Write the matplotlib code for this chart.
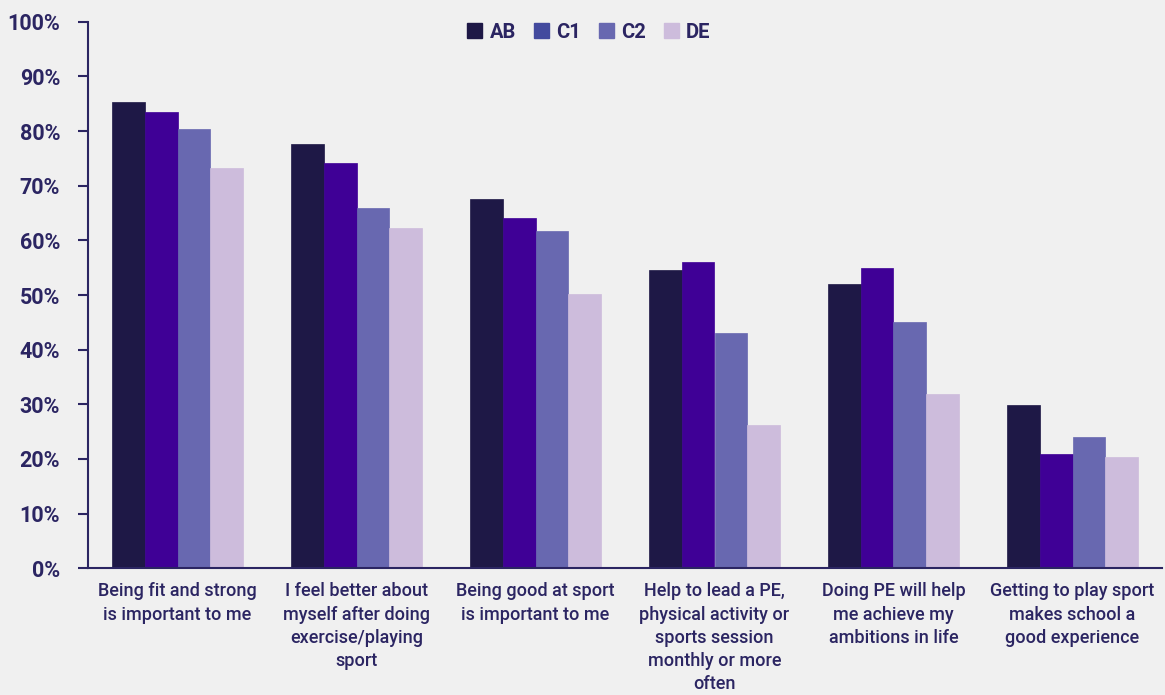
import matplotlib
matplotlib.use("Agg")
import matplotlib.pyplot as plt
import numpy as np
from matplotlib.patches import Patch

categories = [
    "Being fit and strong\nis important to me",
    "I feel better about\nmyself after doing\nexercise/playing\nsport",
    "Being good at sport\nis important to me",
    "Help to lead a PE,\nphysical activity or\nsports session\nmonthly or more\noften",
    "Doing PE will help\nme achieve my\nambitions in life",
    "Getting to play sport\nmakes school a\ngood experience",
]
series_names = ["AB", "C1", "C2", "DE"]
AB = [85.4, 77.6, 67.5, 54.6, 52.1, 29.9]
C1 = [83.4, 74.1, 64.0, 56.1, 54.9, 20.9]
C2 = [80.3, 65.9, 61.7, 43.0, 45.0, 24.1]
DE = [73.3, 62.2, 50.2, 26.2, 31.8, 20.3]
yticks = [0, 10, 20, 30, 40, 50, 60, 70, 80, 90, 100]

bar_colors = ["#1e1846", "#3f0096", "#6868b0", "#cdbcdc"]
legend_colors = ["#1e1846", "#434a9e", "#6868b0", "#cdbcdc"]
txt = "#2b2562"
bg = "#f0f0f0"

plt.rcParams['font.family'] = ['Roboto', 'DejaVu Sans']

fig = plt.figure(figsize=(11.65, 6.95), dpi=100, facecolor=bg)
ax = fig.add_axes([88/1165, 1-568.3/695, 1074/1165, (568.3-21.7)/695])
ax.set_facecolor(bg)

x = np.arange(len(categories))
w = 0.1816
data = [AB, C1, C2, DE]
for i, (vals, col) in enumerate(zip(data, bar_colors)):
    ax.bar(x + (i - 1.5) * w, vals, width=w, color=col, edgecolor=col, linewidth=0.5)

ax.set_xlim(-0.5, len(categories) - 0.5)
ax.set_ylim(0, 100)
ax.set_yticks(yticks)
ax.set_yticklabels([f"{v}%" for v in yticks], fontsize=15.5, fontweight='bold', color=txt)
ax.set_xticks(x)
ax.set_xticklabels(categories, fontsize=13, fontweight='medium', color=txt, linespacing=1.38)
ax.tick_params(axis='y', length=7, width=1.5, color=txt, pad=13)
ax.tick_params(axis='x', length=0, pad=10)
for s in ['top', 'right']:
    ax.spines[s].set_visible(False)
for s in ['left', 'bottom']:
    ax.spines[s].set_color(txt)
    ax.spines[s].set_linewidth(1.5)

handles = [Patch(facecolor=c, edgecolor=c) for c in legend_colors]
leg = fig.legend(handles, series_names, loc='center', bbox_to_anchor=(589/1165, 1-32/695),
                 ncol=4, frameon=False, handlelength=0.75, handleheight=0.75,
                 handletextpad=0.35, columnspacing=0.9,
                 prop={'family': ['Roboto', 'DejaVu Sans'], 'weight': 'bold', 'size': 14.5})
for t in leg.get_texts():
    t.set_color(txt)

fig.savefig("out.png", dpi=100, facecolor=bg)
